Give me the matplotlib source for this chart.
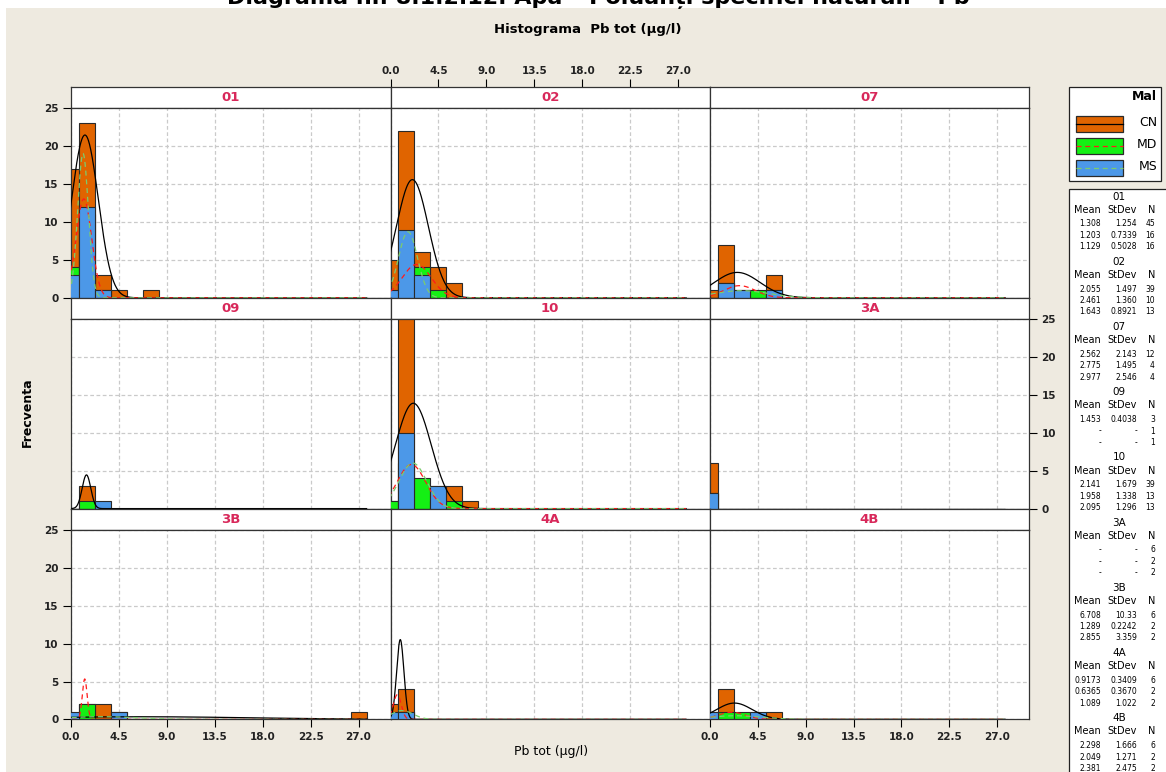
import numpy as np
import matplotlib
matplotlib.use("Agg")
import matplotlib.pyplot as plt
from matplotlib.patches import Rectangle
from matplotlib.lines import Line2D
from matplotlib.ticker import FormatStrFormatter

W, H = 1166, 772
plt.rcParams['font.family'] = ['DejaVu Sans']

# ---- data -------------------------------------------------------------
panels = ["01", "02", "07", "09", "10", "3A", "3B", "4A", "4B"]
groups = ["CN", "MD", "MS"]
bin_width = 1.5
n_bins = 19
bin_centers = np.arange(n_bins) * bin_width
x_ticks = [0.0, 4.5, 9.0, 13.5, 18.0, 22.5, 27.0]
y_ticks = [0, 5, 10, 15, 20, 25]

# frequency per bin (bin centres 0, 1.5, 3.0, ...)
cn_counts = {
    "01": [17, 23, 3, 1, 0, 1],
    "02": [5, 22, 6, 4, 2],
    "07": [1, 7, 1, 0, 3],
    "09": [0, 3],
    "10": [1, 28, 3, 3, 3, 1],
    "3A": [6],
    "3B": [0, 2, 2, 1, 0, 0, 0, 0, 0, 0, 0, 0, 0, 0, 0, 0, 0, 0, 1],
    "4A": [2, 4],
    "4B": [1, 4, 0, 0, 1],
}
md_counts = {
    "01": [4, 11, 1],
    "02": [0, 5, 4, 1],
    "07": [0, 2, 0, 1, 1],
    "09": [0, 1],
    "10": [1, 6, 4, 1, 1],
    "3A": [2],
    "3B": [0, 2],
    "4A": [1, 1],
    "4B": [0, 1, 1],
}
ms_counts = {
    "01": [3, 12, 1],
    "02": [1, 9, 3, 0],
    "07": [0, 2, 1, 0, 1],
    "09": [0, 0, 1],
    "10": [0, 10, 0, 3],
    "3A": [2],
    "3B": [1, 0, 0, 1],
    "4A": [1, 1],
    "4B": [1, 0, 0, 1],
}

# summary statistics (CN, MD, MS) per panel
means = {
    "01": ["1.308", "1.203", "1.129"],
    "02": ["2.055", "2.461", "1.643"],
    "07": ["2.562", "2.775", "2.977"],
    "09": ["1.453", "-", "-"],
    "10": ["2.141", "1.958", "2.095"],
    "3A": ["-", "-", "-"],
    "3B": ["6.708", "1.289", "2.855"],
    "4A": ["0.9173", "0.6365", "1.089"],
    "4B": ["2.298", "2.049", "2.381"],
}
stdevs = {
    "01": ["1.254", "0.7339", "0.5028"],
    "02": ["1.497", "1.360", "0.8921"],
    "07": ["2.143", "1.495", "2.546"],
    "09": ["0.4038", "-", "-"],
    "10": ["1.679", "1.338", "1.296"],
    "3A": ["-", "-", "-"],
    "3B": ["10.33", "0.2242", "3.359"],
    "4A": ["0.3409", "0.3670", "1.022"],
    "4B": ["1.666", "1.271", "2.475"],
}
counts_n = {
    "01": [45, 16, 16],
    "02": [39, 10, 13],
    "07": [12, 4, 4],
    "09": [3, 1, 1],
    "10": [39, 13, 13],
    "3A": [6, 2, 2],
    "3B": [6, 2, 2],
    "4A": [6, 2, 2],
    "4B": [6, 2, 2],
}

# ---- styles -----------------------------------------------------------
bar_colors = {"CN": "#E06400", "MD": "#14F014", "MS": "#4C98E8"}
curve_styles = {
    "CN": dict(color="black", lw=0.9, ls="-"),
    "MD": dict(color="#FF1A1A", lw=0.9, ls=(0, (4, 3))),
    "MS": dict(color="#7CCB6E", lw=0.9, ls=(0, (4, 3))),
}
beige = "#EEEAE0"
strip_color = "#D8285A"
edge = "#2A2A2A"

fig = plt.figure(figsize=(W / 100, H / 100), dpi=100, facecolor="white")


def frac(x0, y0, x1, y1):
    return [x0 / W, 1 - y1 / H, (x1 - x0) / W, (y1 - y0) / H]


bg = fig.add_axes([0, 0, 1, 1], zorder=0)
bg.set_xlim(0, W)
bg.set_ylim(H, 0)
bg.axis("off")
bg.add_patch(Rectangle((6, 8), W, H, facecolor=beige, edgecolor="none"))

bg.text(598, 4, "Diagrama nr. 8.1.2.12. Apa \u2013 Poluan\u021bi specifici naturali \u2013 Pb",
        ha="center", va="baseline", fontsize=16, fontweight="bold")
bg.text(588, 30, "Histograma  Pb tot (\u00b5g/l)", ha="center", va="center",
        fontsize=9.5, fontweight="bold")
bg.text(27, 412, "Frecventa", ha="center", va="center", rotation=90,
        fontsize=9, fontweight="bold")
bg.text(551, 752, "Pb tot (\u00b5g/l)", ha="center", va="center", fontsize=9)

col_x = [71, 390.5, 710, 1029]
row_top = [87, 297.8, 508.6]
strip_h = 21.3
row_bottom = [297.8, 508.6, 719.4]

xs = np.linspace(-0.75, 27.75, 800)


def pad(vals):
    out = np.zeros(n_bins)
    out[:len(vals)] = vals
    return out


def style_ticklabels(labels):
    for lb in labels:
        lb.set_fontweight("bold")
        lb.set_fontsize(7.5)
        lb.set_color("#222222")


for idx, name in enumerate(panels):
    r, c = divmod(idx, 3)
    x0, x1 = col_x[c], col_x[c + 1]
    ys, yp, yb = row_top[r], row_top[r] + strip_h, row_bottom[r]

    # strip with panel name
    sax = fig.add_axes(frac(x0, ys, x1, yp), zorder=2)
    sax.set_facecolor("white")
    sax.set_xlim(0, 30)
    sax.set_yticks([])
    for sp in sax.spines.values():
        sp.set_color("#333333")
        sp.set_linewidth(0.9)
    sax.text(0.5, 0.5, name, transform=sax.transAxes, ha="center", va="center",
             fontsize=9.5, fontweight="bold", color=strip_color)
    if r == 0 and c == 1:
        sax.xaxis.set_ticks_position("top")
        sax.set_xticks(x_ticks)
        sax.xaxis.set_major_formatter(FormatStrFormatter("%.1f"))
        sax.tick_params(axis="x", direction="out", length=6, width=0.8, pad=2)
        style_ticklabels(sax.get_xticklabels())
    else:
        sax.set_xticks([])

    # plot panel
    ax = fig.add_axes(frac(x0, yp, x1, yb), zorder=2)
    ax.set_facecolor("white")
    ax.set_xlim(0, 30)
    ax.set_ylim(0, 25)
    ax.set_xticks(x_ticks)
    ax.set_yticks(y_ticks)
    ax.set_axisbelow(True)
    ax.grid(True, color="#CACACA", lw=0.9, ls=(0, (3, 2)))
    for sp in ax.spines.values():
        sp.set_color("#333333")
        sp.set_linewidth(0.9)
    ax.tick_params(which="both", length=0, labelleft=False, labelbottom=False)

    for gi, (g, table) in enumerate(zip(groups, [cn_counts, md_counts, ms_counts])):
        ax.bar(bin_centers, pad(table[name]), width=bin_width, color=bar_colors[g],
               edgecolor=edge, linewidth=0.8, zorder=2 + gi)

    for gi, g in enumerate(groups):
        m, s = means[name][gi], stdevs[name][gi]
        if m == "-" or s == "-":
            continue
        m, s = float(m), float(s)
        n = counts_n[name][gi]
        yv = n * bin_width / (s * np.sqrt(2 * np.pi)) * np.exp(-0.5 * ((xs - m) / s) ** 2)
        ax.plot(xs, yv, zorder=6, **curve_styles[g])

    # outer axes: left ticks on rows 1 and 3, right ticks on row 2, bottom on row 3
    if c == 0 and r in (0, 2):
        ax.tick_params(axis="y", left=True, labelleft=True, length=6, width=0.8,
                       direction="out", pad=3)
        style_ticklabels(ax.get_yticklabels())
    if c == 2 and r == 1:
        ax.yaxis.set_ticks_position("right")
        ax.tick_params(axis="y", right=True, labelright=True, length=6, width=0.8,
                       direction="out", pad=3)
        style_ticklabels(ax.get_yticklabels())
    if r == 2 and c in (0, 2):
        ax.xaxis.set_major_formatter(FormatStrFormatter("%.1f"))
        ax.tick_params(axis="x", bottom=True, labelbottom=True, length=6, width=0.8,
                       direction="out", pad=3)
        style_ticklabels(ax.get_xticklabels())

# ---- legend ----------------------------------------------------------
bg.add_patch(Rectangle((1069, 87), 92, 94, facecolor="white", edgecolor="#222222", lw=0.9))
bg.text(1157, 97, "Mal", ha="right", va="center", fontsize=9, fontweight="bold")
leg_y = [115.5, 137.5, 159.5]
for g, y in zip(groups, leg_y):
    bg.add_patch(Rectangle((1076, y), 47, 16, facecolor=bar_colors[g],
                           edgecolor=edge, lw=0.9))
    st = curve_styles[g]
    bg.add_line(Line2D([1076, 1123], [y + 8, y + 8], color=st["color"], lw=st["lw"],
                       ls=st["ls"]))
    bg.text(1157, y + 7, g, ha="right", va="center", fontsize=9)

# ---- statistics box --------------------------------------------------
bg.add_patch(Rectangle((1069, 189), 110, 600, facecolor="white", edgecolor="#222222", lw=0.9))
for k, name in enumerate(panels):
    y0 = 196.5 + k * 65.2
    bg.text(1119, y0, name, ha="center", va="center", fontsize=7.5)
    bg.text(1101, y0 + 13.3, "Mean", ha="right", va="center", fontsize=7)
    bg.text(1137, y0 + 13.3, "StDev", ha="right", va="center", fontsize=7)
    bg.text(1155, y0 + 13.3, "N", ha="right", va="center", fontsize=7)
    for gi in range(3):
        yy = y0 + 27.5 + gi * 11.4
        bg.text(1101, yy, means[name][gi], ha="right", va="center", fontsize=5.5)
        bg.text(1137, yy, stdevs[name][gi], ha="right", va="center", fontsize=5.5)
        bg.text(1155, yy, str(counts_n[name][gi]), ha="right", va="center", fontsize=5.5)

fig.savefig("out.png", dpi=100, facecolor="white")
